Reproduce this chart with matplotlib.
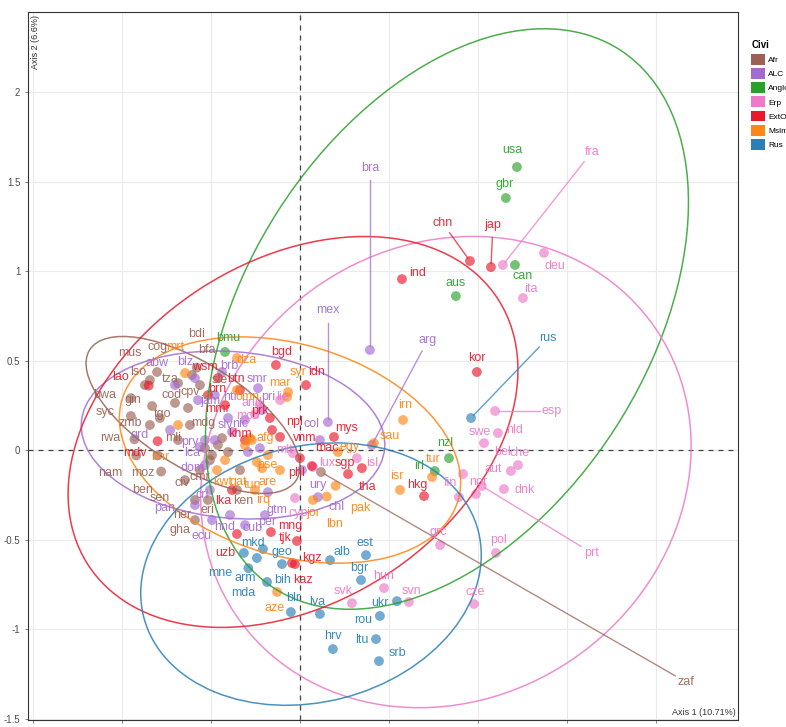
import matplotlib
matplotlib.use('Agg')
import matplotlib.pyplot as plt
from matplotlib.patches import Ellipse, Patch
import numpy as np

plt.rcParams['font.family'] = ['Liberation Sans', 'DejaVu Sans']

# groups ("Civi") and their colours
groups = ['Afr', 'ALC', 'Anglo', 'Erp', 'ExtO', 'Mslm', 'Rus']
group_colors = ['#9a6254', '#a36bd0', '#2ca02c', '#ec7ac8', '#e8192c', '#ff8514', '#2a7fb8']

# country code, group, point (Axis 1, Axis 2), label position (None = label hidden by repel)
codes = ['zaf', 'mus', 'cog', 'lso', 'tza', 'bwa', 'cod', 'cpv', 'gin', 'syc', 'tgo', 'zmb', 'mdg', 'mli',
         'rwa', 'bdi', 'bfa', 'sle', 'nam', 'moz', 'ben', 'sen', 'civ', 'cmr', 'ken', 'eri', 'ner', 'gha',
         'uga', 'tcd', 'mwi', 'gmb', 'lbr', 'zwe',
         'bra', 'mex', 'arg', 'col', 'ury', 'chl', 'gtm', 'per', 'cub', 'hnd', 'ecu', 'pan', 'cri', 'dom',
         'lca', 'pry', 'grd', 'slv', 'nic', 'jam', 'hti', 'pri', 'smr', 'brb', 'blz', 'abw',
         'bol', 'ven', 'tto', 'guy',
         'usa', 'gbr', 'can', 'aus', 'nzl', 'irl', 'bmu',
         'fra', 'deu', 'ita', 'esp', 'nld', 'swe', 'che', 'bel', 'aut', 'dnk', 'nor', 'prt', 'fin', 'grc',
         'pol', 'cze', 'hun', 'svn', 'svk', 'isl', 'lux', 'cyp', 'mlt', 'lie', 'and', 'mco',
         'chn', 'jap', 'ind', 'kor', 'hkg', 'tha', 'sgp', 'mac', 'mys', 'npl', 'vnm', 'phl', 'idn', 'bgd',
         'wsm', 'btn', 'brn', 'prk', 'mmr', 'khm', 'lao', 'mdv', 'lka', 'mng', 'tjk', 'uzb', 'kgz', 'kaz',
         'irn', 'sau', 'tur', 'isr', 'egy', 'pak', 'lbn', 'jor', 'syr', 'mar', 'dza', 'omn', 'mrt', 'bhr',
         'afg', 'pse', 'kwt', 'qat', 'tun', 'are', 'irq', 'aze', 'sdn', 'yem', 'lby',
         'rus', 'est', 'alb', 'bgr', 'ukr', 'rou', 'lva', 'hrv', 'ltu', 'srb', 'blr', 'bih', 'arm', 'mda',
         'mne', 'mkd', 'geo']

civi = (['Afr'] * 34 + ['ALC'] * 30 + ['Anglo'] * 7 + ['Erp'] * 26 + ['ExtO'] * 28
        + ['Mslm'] * 25 + ['Rus'] * 17)

pt_x = [0.118, -0.871, -0.803, -0.843, -0.685, -0.950, -0.702, -0.629, -0.831, -0.950, -0.787, -0.843, -0.618, -0.685,
        -0.930, -0.580, -0.607, -0.562, -0.920, -0.800, -0.780, -0.646, -0.562, -0.506, -0.354, -0.517, -0.590, -0.590,
        -0.461, -0.404, -0.494, -0.337, -0.534, -0.438,
        0.393, 0.157, 0.404, 0.112, 0.011, 0.101, -0.180, -0.197, -0.309, -0.393, -0.494, -0.590, -0.506, -0.534,
        -0.562, -0.534, -0.730, -0.404, -0.309, -0.573, -0.478, -0.213, -0.236, -0.438, -0.590, -0.702,
        -0.382, -0.292, -0.478, -0.225,
        1.219, 1.157, 1.208, 0.876, 0.837, 0.758, -0.421,
        1.140, 1.371, 1.253, 1.096, 1.112, 1.034, 1.225, 1.185, 0.916, 1.146, 0.989, 1.022, 0.893, 0.787,
        1.101, 0.978, 0.472, 0.612, 0.292, 0.320, 0.073, -0.028, -0.039, -0.112, -0.225, -0.253,
        0.955, 1.073, 0.573, 0.994, 0.697, 0.348, 0.270, 0.067, 0.191, -0.112, -0.157, 0.000, 0.034, -0.135,
        -0.461, -0.337, -0.517, -0.169, -0.421, -0.309, -0.850, -0.800, -0.382, -0.163, -0.017, -0.354, -0.045, -0.028,
        0.579, 0.416, 0.742, 0.562, 0.213, 0.200, 0.150, 0.073, -0.067, -0.073, -0.354, -0.354, -0.646, -0.685,
        -0.281, -0.242, -0.466, -0.421, -0.213, -0.112, -0.253, -0.129, -0.309, -0.270, -0.180,
        0.961, 0.371, 0.169, 0.343, 0.545, 0.449, 0.112, 0.185, 0.427, 0.444, -0.051, -0.185, -0.242, -0.290,
        -0.315, -0.208, -0.101]

pt_y = [-0.123, 0.363, 0.436, 0.391, 0.374, 0.290, 0.263, 0.235, 0.246, 0.190, 0.179, 0.140, 0.140, 0.056,
        0.060, 0.460, 0.419, 0.363, -0.030, -0.030, -0.120, -0.168, -0.112, -0.056, -0.223, -0.279, -0.279, -0.391,
        0.028, -0.011, -0.028, -0.112, 0.011, 0.067,
        0.559, 0.156, 0.028, 0.056, -0.112, -0.263, -0.235, -0.363, -0.419, -0.363, -0.391, -0.307, -0.223, -0.084,
        0.017, 0.056, 0.112, 0.179, 0.168, 0.279, 0.307, 0.223, 0.346, 0.436, 0.402, 0.363,
        0.101, -0.011, 0.056, 0.011,
        1.581, 1.408, 1.034, 0.860, -0.045, -0.117, 0.548,
        1.034, 1.101, 0.849, 0.218, 0.095, 0.039, -0.084, -0.117, -0.134, -0.218, -0.246, -0.201, -0.263, -0.531,
        -0.575, -0.860, -0.771, -0.849, -0.855, -0.045, -0.095, -0.268, -0.017, 0.279, 0.251, 0.201,
        1.056, 1.022, 0.955, 0.436, -0.257, -0.101, -0.134, -0.089, 0.073, 0.073, 0.112, -0.045, 0.363, 0.475,
        0.402, 0.335, 0.307, 0.179, 0.251, 0.056, 0.360, 0.050, -0.223, -0.458, -0.508, -0.469, -0.631, -0.637,
        0.168, 0.039, -0.151, -0.223, -0.011, -0.200, -0.260, -0.279, 0.324, 0.296, 0.514, 0.335, 0.430, 0.140,
        0.067, -0.067, -0.112, -0.056, -0.101, -0.112, -0.223, -0.793, 0.028, 0.056, -0.028,
        0.179, -0.587, -0.615, -0.726, -0.844, -0.927, -0.916, -1.112, -1.056, -1.179, -0.905, -0.737, -0.603, -0.660,
        -0.575, -0.553, -0.637]

lab_x = [2.169, -0.955, -0.798, -0.910, -0.730, -1.096, -0.719, -0.618, -0.938, -1.096, -0.775, -0.955, -0.545, -0.713,
         -1.067, -0.579, -0.522, -0.449, -1.067, -0.882, -0.882, -0.787, -0.663, -0.562, -0.320, -0.522, -0.663, -0.674,
         None, None, None, None, None, None,
         0.393, 0.157, 0.719, 0.067, 0.101, 0.208, -0.129, -0.185, -0.264, -0.421, -0.551, -0.758, -0.551, -0.601,
         -0.607, -0.618, -0.899, -0.421, -0.337, -0.506, -0.393, -0.180, -0.242, -0.399, -0.646, -0.803,
         None, None, None, None,
         1.191, 1.152, 1.253, 0.876, 0.815, 0.669, -0.404,
         1.640, 1.433, 1.298, 1.416, 1.208, 1.011, 1.236, 1.140, 1.084, 1.264, 1.000, 1.640, 0.843, 0.775,
         1.118, 0.983, 0.472, 0.629, 0.242, 0.404, 0.152, -0.011, -0.084, -0.096, -0.270, -0.292,
         0.800, 1.084, 0.663, 0.994, 0.657, 0.382, 0.253, 0.152, 0.264, -0.028, 0.028, -0.017, 0.096, -0.101,
         -0.534, -0.360, -0.466, -0.225, -0.461, -0.337, -1.011, -0.927, -0.433, -0.056, -0.084, -0.421, 0.067, 0.017,
         0.590, 0.506, 0.747, 0.545, 0.281, 0.337, 0.197, 0.073, -0.011, -0.112, -0.298, -0.292, -0.702, -0.787,
         -0.197, -0.185, -0.433, -0.348, -0.264, -0.180, -0.208, -0.140, None, None, None,
         1.393, 0.365, 0.236, 0.331, 0.449, 0.354, 0.096, 0.185, 0.348, 0.545, -0.039, -0.096, -0.309, -0.320,
         -0.449, -0.264, -0.101]

lab_y = [-1.296, 0.542, 0.575, 0.436, 0.397, 0.307, 0.307, 0.324, 0.279, 0.212, 0.201, 0.151, 0.151, 0.067,
         0.067, 0.648, 0.559, 0.391, -0.128, -0.128, -0.223, -0.268, -0.184, -0.151, -0.285, -0.335, -0.363, -0.447,
         None, None, None, None, None, None,
         1.576, 0.782, 0.615, 0.145, -0.196, -0.318, -0.335, -0.402, -0.436, -0.430, -0.480, -0.324, -0.251, -0.101,
         -0.017, 0.045, 0.084, 0.140, 0.145, 0.274, 0.296, 0.296, 0.397, 0.469, 0.492, 0.486,
         None, None, None, None,
         1.676, 1.486, 0.972, 0.933, 0.039, -0.089, 0.626,
         1.665, 1.028, 0.900, 0.218, 0.112, 0.101, -0.017, -0.011, -0.106, -0.223, -0.179, -0.575, -0.184, -0.458,
         -0.503, -0.793, -0.704, -0.788, -0.788, -0.073, -0.073, -0.352, 0.000, 0.296, 0.263, 0.190,
         1.270, 1.257, 0.989, 0.514, -0.196, -0.207, -0.073, 0.011, 0.123, 0.156, 0.067, -0.128, 0.436, 0.548,
         0.464, 0.397, 0.341, 0.218, 0.229, 0.089, 0.408, -0.017, -0.285, -0.425, -0.492, -0.575, -0.603, -0.726,
         0.251, 0.078, -0.050, -0.145, 0.017, -0.324, -0.413, -0.352, 0.436, 0.374, 0.503, 0.296, 0.575, -0.039,
         0.067, -0.084, -0.179, -0.179, -0.196, -0.179, -0.279, -0.883, None, None, None,
         0.626, -0.520, -0.570, -0.659, -0.855, -0.950, -0.849, -1.039, -1.062, -1.134, -0.827, -0.726, -0.715, -0.799,
         -0.687, -0.520, -0.570]

# concentration ellipses per group (centre, full width, full height, angle in degrees)
ell_cx = [-0.601, -0.376, 0.826, 0.820, -0.039, -0.056, 0.062]
ell_cy = [0.196, 0.084, 0.732, -0.123, 0.101, 0.000, -0.693]
ell_w = [1.37, 1.71, 3.58, 2.85, 2.74, 1.97, 1.94]
ell_h = [0.58, 0.93, 2.25, 2.53, 1.91, 1.18, 1.43]
ell_ang = [-32, -5, 57, 33.7, 32.6, -16.7, 14.2]

colmap = dict(zip(groups, group_colors))

fig = plt.figure(figsize=(7.86, 7.27), dpi=100)
ax = fig.add_axes([28 / 786, 7 / 727, 710 / 786, 708 / 727])
ax.set_xlim(-1.528, 2.461)
ax.set_ylim(-1.508, 2.447)

ax.set_xticks(np.arange(-1.5, 2.01, 0.5))
ax.set_yticks(np.arange(-1.5, 2.01, 0.5))
ax.xaxis.set_major_formatter(plt.FormatStrFormatter('%g'))
ax.yaxis.set_major_formatter(plt.FormatStrFormatter('%g'))
ax.tick_params(labelsize=7, colors='#4d4d4d', length=2, width=0.5)
ax.grid(True, color='#ebebeb', lw=0.8)
ax.set_axisbelow(True)
for s in ax.spines.values():
    s.set_color('#333333')
    s.set_linewidth(0.8)

ax.axhline(0, color='#444444', ls=(0, (4, 4)), lw=0.9, zorder=1)
ax.axvline(0, color='#444444', ls=(0, (4, 4)), lw=0.9, zorder=1)

cols = [colmap[g] for g in civi]
ax.scatter(pt_x, pt_y, s=50, c=cols, alpha=0.65, linewidths=0, zorder=2)

for g, cx, cy, w, h, a in zip(groups, ell_cx, ell_cy, ell_w, ell_h, ell_ang):
    ax.add_patch(Ellipse((cx, cy), w, h, angle=a, fill=False, ec=colmap[g], lw=1.1, alpha=0.85, zorder=3))

for code, g, px, py, lx, ly in zip(codes, civi, pt_x, pt_y, lab_x, lab_y):
    if lx is None:
        continue
    c = colmap[g]
    d = np.hypot(lx - px, ly - py)
    if d > 0.22:
        ux, uy = (lx - px) / d, (ly - py) / d
        ax.plot([px + 0.02 * ux, lx - 0.07 * ux], [py + 0.02 * uy, ly - 0.07 * uy],
                color=c, lw=1.0, alpha=0.75, zorder=3)
    ax.text(lx, ly, code, color=c, fontsize=9, ha='center', va='center', alpha=0.92, zorder=4)

ax.text(0.997, 0.004, 'Axis 1 (10.71%)', transform=ax.transAxes, ha='right', va='bottom',
        fontsize=6.5, color='#333333')
ax.text(0.004, 0.996, 'Axis 2 (6.6%)', transform=ax.transAxes, ha='left', va='top',
        rotation=90, fontsize=6.5, color='#333333')

handles = [Patch(facecolor=c, edgecolor='none') for c in group_colors]
leg = fig.legend(handles, groups, title='Civi', loc='upper left',
                 bbox_to_anchor=(748 / 786, 1 - 37 / 727), frameon=False, fontsize=6,
                 handlelength=1.6, handleheight=1.6, handletextpad=0.4, labelspacing=0.42,
                 borderaxespad=0)
leg.get_title().set_fontweight('bold')
leg.get_title().set_fontsize(7)
leg._legend_box.align = 'left'

fig.savefig('out.png', dpi=100)
